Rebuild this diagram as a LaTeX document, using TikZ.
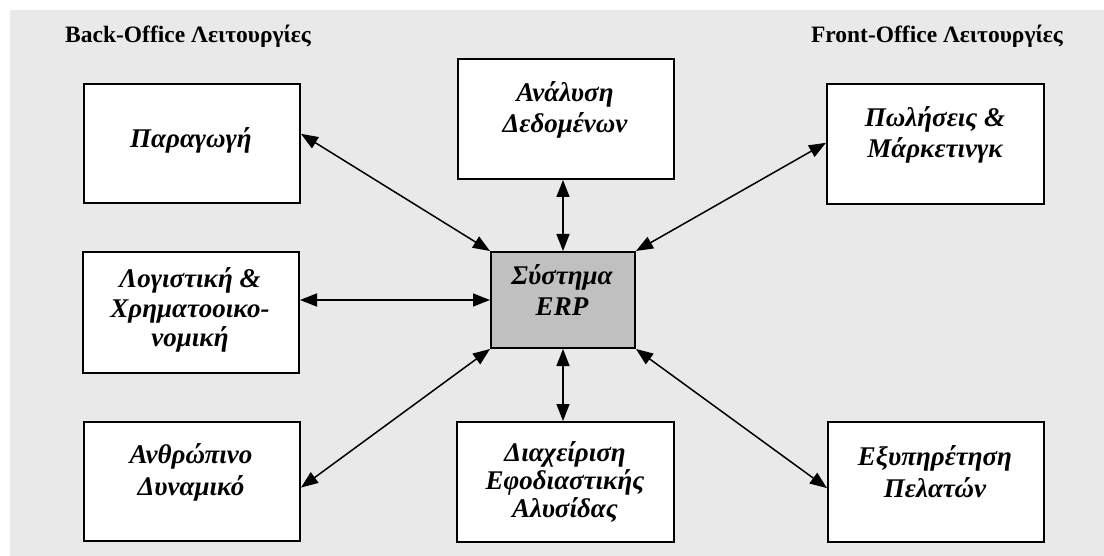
\documentclass[tikz,border=0pt]{standalone}
\usepackage{fontspec}
\setmainfont{Liberation Serif}
\usetikzlibrary{arrows.meta,calc}
\definecolor{panelgray}{HTML}{E9E9E9}
\definecolor{erpgray}{HTML}{C0C0C0}
\tikzset{
  unit/.style={draw=black, line width=2pt, fill=white, inner sep=0pt, anchor=north west},
  core/.style={unit, fill=erpgray},
  caption/.style={align=center, inner sep=0pt, anchor=base,
    font=\fontsize{27}{31}\selectfont\bfseries\itshape},
  heading/.style={inner sep=0pt, anchor=base west, font=\fontsize{23.5}{28}\selectfont\bfseries},
  link/.style={line width=1.5pt, {Triangle[length=17pt,width=13pt]}-{Triangle[length=17pt,width=13pt]}}
}
\begin{document}
\begin{tikzpicture}[x=1pt,y=-1pt]
\useasboundingbox (0,0) rectangle (1104,556);
\fill[panelgray] (10,10) rectangle (1104,556);

% section headings
\node[heading] (backoffice) at (65,43) {Back-Office Λειτουργίες};
\node[heading, anchor=base east] (frontoffice) at (1063,43) {Front-Office Λειτουργίες};

% functional areas
\node[unit, minimum width=216pt, minimum height=119pt] (prod) at (83,83) {};
\node[unit, minimum width=216pt, minimum height=120pt] (anal) at (457,58) {};
\node[unit, minimum width=217pt, minimum height=120pt] (sales) at (826,83) {};
\node[unit, minimum width=216pt, minimum height=121pt] (acct) at (82,251) {};
\node[core, minimum width=144pt, minimum height=96pt] (erp) at (490,251) {};
\node[unit, minimum width=216pt, minimum height=119pt] (hr) at (83,421) {};
\node[unit, minimum width=217pt, minimum height=120pt] (scm) at (456,421) {};
\node[unit, minimum width=216pt, minimum height=120pt] (cust) at (827,421) {};

% captions (positioned by the baseline of their last line)
\node[caption] (prodtxt) at (191,148) {Παραγωγή};
\node[caption] (analtxt) at (565,133) {Ανάλυση\\Δεδομένων};
\node[caption] (salestxt) at (935,158) {Πωλήσεις \&\\Μάρκετινγκ};
\node[caption, font=\fontsize{27}{30}\selectfont\bfseries\itshape] (accttxt) at (190,347) {Λογιστική \&\\Χρηματοοικο-\\νομική};
\node[caption] (erptxt) at (562,316) {Σύστημα\\ERP};
\node[caption, font=\fontsize{27}{32}\selectfont\bfseries\itshape] (hrtxt) at (191,495) {Ανθρώπινο\\Δυναμικό};
\node[caption, font=\fontsize{27}{28}\selectfont\bfseries\itshape] (scmtxt) at (565,517) {Διαχείριση\\Εφοδιαστικής\\Αλυσίδας};
\node[caption, font=\fontsize{27}{32}\selectfont\bfseries\itshape] (custtxt) at (935,497) {Εξυπηρέτηση\\Πελατών};

% links to the ERP system
\draw[link] ($(prod.north east)!0.42!(prod.south east)$) -- (erp.north west);
\draw[link] ($(sales.north west)!0.49!(sales.south west)$) -- (erp.north east);
\draw[link] (anal.south -| erp.north) -- (erp.north);
\draw[link] (erp.west -| acct.east) -- (erp.west);
\draw[link] ($(hr.north east)!0.55!(hr.south east)$) -- (erp.south west);
\draw[link] (scm.north -| erp.south) -- (erp.south);
\draw[link] ($(cust.north west)!0.55!(cust.south west)$) -- (erp.south east);
\end{tikzpicture}
\end{document}
